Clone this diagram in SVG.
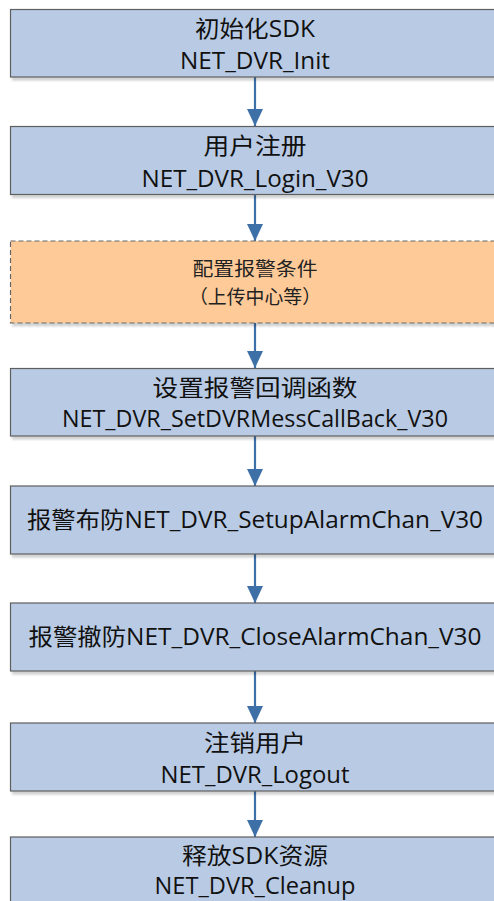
<svg xmlns="http://www.w3.org/2000/svg" width="494" height="901" viewBox="0 0 494 901">
<style>
.box{fill:#b9cbe4;stroke:#5e5e5e;stroke-width:1.2;filter:url(#sh)}
.opt{fill:#fdca98;stroke:#666;stroke-width:1.2;stroke-dasharray:5 3;filter:url(#sh)}
.t{font-family:"Open Sans","Noto Sans CJK SC",sans-serif;font-size:23px;fill:#111;text-anchor:middle}
.s{font-family:"Open Sans","Noto Sans CJK SC",sans-serif;font-size:19px;fill:#222;text-anchor:middle}
.c{stroke:#3e70a8;stroke-width:2.2;fill:none;marker-end:url(#ah)}
</style>
<defs>
<filter id="sh" x="-5%" y="-10%" width="115%" height="130%">
<feDropShadow dx="2" dy="3" stdDeviation="1" flood-color="#000" flood-opacity="0.18"/>
</filter>
<marker id="ah" markerUnits="userSpaceOnUse" markerWidth="16" markerHeight="17" refX="17" refY="8" orient="auto">
<path d="M0,0 L17,8 L0,16 Z" fill="#3e70a8"/>
</marker>
</defs>
<g id="connectors">
<line class="c" x1="255" y1="77" x2="255" y2="126"/>
<line class="c" x1="255" y1="195" x2="255" y2="241"/>
<line class="c" x1="255" y1="323" x2="255" y2="368"/>
<line class="c" x1="255" y1="436" x2="255" y2="486"/>
<line class="c" x1="255" y1="554" x2="255" y2="603"/>
<line class="c" x1="255" y1="671" x2="255" y2="723"/>
<line class="c" x1="255" y1="791" x2="255" y2="837"/>
</g>
<g id="n1">
<rect class="box" x="10.5" y="9.5" width="489" height="67.5"/>
<text class="t" x="255" y="37" textLength="120" lengthAdjust="spacingAndGlyphs">初始化SDK</text>
<text class="t" x="255" y="69" textLength="150" lengthAdjust="spacingAndGlyphs">NET_DVR_Init</text>
</g>
<g id="n2">
<rect class="box" x="10.5" y="126.5" width="489" height="68"/>
<text class="t" x="255" y="154" textLength="103" lengthAdjust="spacingAndGlyphs">用户注册</text>
<text class="t" x="255" y="187" textLength="227" lengthAdjust="spacingAndGlyphs">NET_DVR_Login_V30</text>
</g>
<g id="n3">
<rect class="opt" x="10.5" y="241" width="489" height="82"/>
<text class="s" x="255" y="276" textLength="125" lengthAdjust="spacingAndGlyphs">配置报警条件</text>
<text class="s" x="255" y="304" textLength="132" lengthAdjust="spacingAndGlyphs">（上传中心等）</text>
</g>
<g id="n4">
<rect class="box" x="10.5" y="368.5" width="489" height="67.5"/>
<text class="t" x="255" y="396" textLength="205" lengthAdjust="spacingAndGlyphs">设置报警回调函数</text>
<text class="t" x="255" y="427" textLength="386" lengthAdjust="spacingAndGlyphs">NET_DVR_SetDVRMessCallBack_V30</text>
</g>
<g id="n5">
<rect class="box" x="10.5" y="486" width="489" height="68"/>
<text class="t" x="255" y="528" textLength="456" lengthAdjust="spacingAndGlyphs">报警布防NET_DVR_SetupAlarmChan_V30</text>
</g>
<g id="n6">
<rect class="box" x="10.5" y="603" width="489" height="68"/>
<text class="t" x="255" y="645" textLength="453" lengthAdjust="spacingAndGlyphs">报警撤防NET_DVR_CloseAlarmChan_V30</text>
</g>
<g id="n7">
<rect class="box" x="10.5" y="723" width="489" height="68"/>
<text class="t" x="255" y="751" textLength="102" lengthAdjust="spacingAndGlyphs">注销用户</text>
<text class="t" x="255" y="783" textLength="189" lengthAdjust="spacingAndGlyphs">NET_DVR_Logout</text>
</g>
<g id="n8">
<rect class="box" x="10.5" y="837" width="489" height="80"/>
<text class="t" x="255" y="864" textLength="146" lengthAdjust="spacingAndGlyphs">释放SDK资源</text>
<text class="t" x="255" y="894" textLength="201" lengthAdjust="spacingAndGlyphs">NET_DVR_Cleanup</text>
</g>
</svg>
